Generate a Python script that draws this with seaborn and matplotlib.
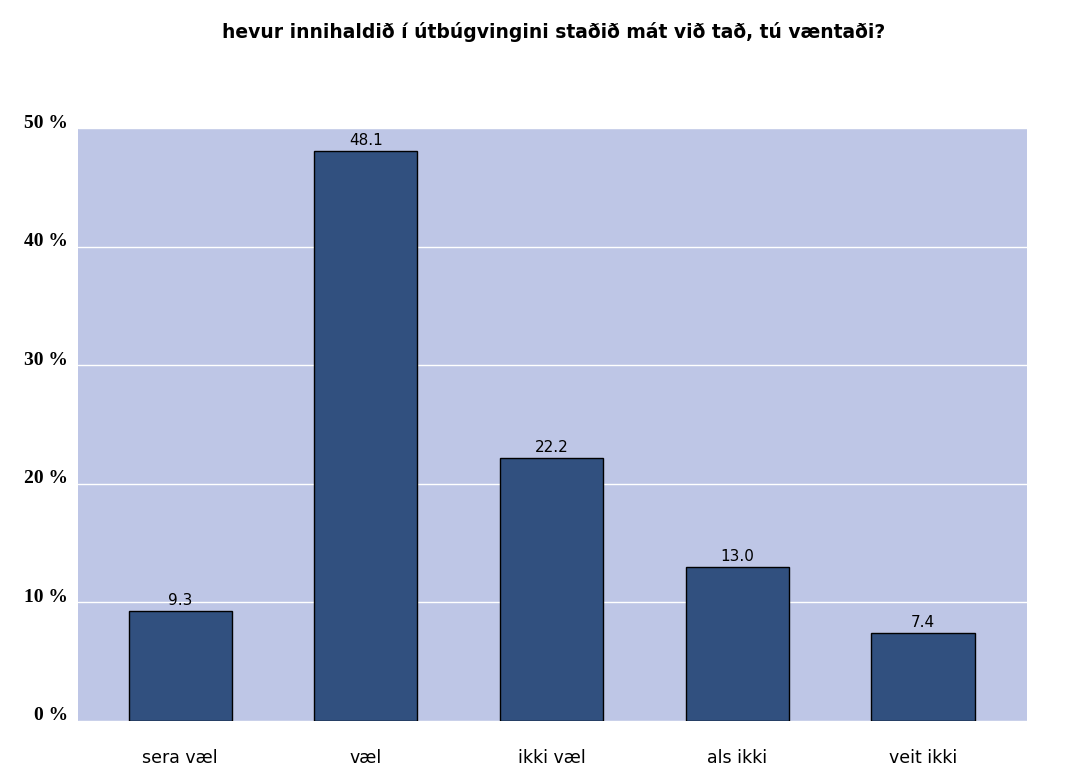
import matplotlib
matplotlib.use("Agg")
import matplotlib.pyplot as plt
import matplotlib.transforms as mtransforms
import seaborn as sns
import pandas as pd

# chart data
categories = ["sera væl", "væl", "ikki væl", "als ikki", "veit ikki"]
values = [9.3, 48.1, 22.2, 13.0, 7.4]
y_ticks = [0, 10, 20, 30, 40, 50]
y_tick_labels = ["0 %", "10 %", "20 %", "30 %", "40 %", "50 %"]
title = "hevur innihaldið í útbúgvingini staðið mát við tað, tú væntaði?"

df = pd.DataFrame({"category": categories, "value": values})

sns.set_style("white", {"text.color": "black", "xtick.color": "black", "ytick.color": "black"})
plt.rcParams["font.family"] = ["DejaVu Sans"]

fig = plt.figure(figsize=(10.67, 7.67), dpi=100)
ax = fig.add_axes([0.0731, 0.06, 0.8894, 0.773])
ax.set_facecolor("#bec6e6")

sns.barplot(data=df, x="category", y="value", color="#31507f", width=0.555,
            edgecolor="black", linewidth=1.0, saturation=1, ax=ax, zorder=3)

ax.set_xlim(-0.55, 4.56)
ax.set_ylim(0, 50)
ax.set_yticks(y_ticks)
ax.set_yticklabels([])
ax.yaxis.grid(True, color="white", linewidth=1.0, zorder=0)
ax.set_axisbelow(True)
ax.tick_params(axis="y", length=0)
ax.tick_params(axis="x", length=0, pad=20, labelsize=12.5)
for s in ax.spines.values():
    s.set_visible(False)
ax.set_xlabel("")
ax.set_ylabel("")

# y labels drawn by hand: they sit a bit above their gridline in the original
lab_tr = mtransforms.blended_transform_factory(ax.transAxes, ax.transData) + \
    mtransforms.ScaledTranslation(-0.1, 0.05, fig.dpi_scale_trans)
for t, lab in zip(y_ticks, y_tick_labels):
    ax.text(0, t, lab, transform=lab_tr, ha="right", va="center", fontsize=14,
            fontweight="bold", fontfamily=["Liberation Serif", "DejaVu Serif"])

for i, v in enumerate(values):
    ax.text(i, v + 0.25, f"{v:.1f}", ha="center", va="bottom", fontsize=11, zorder=4)

fig.text(0.519, 0.958, title, ha="center", va="center", fontsize=13.5, fontweight="bold")

fig.savefig("out.png", dpi=100)
